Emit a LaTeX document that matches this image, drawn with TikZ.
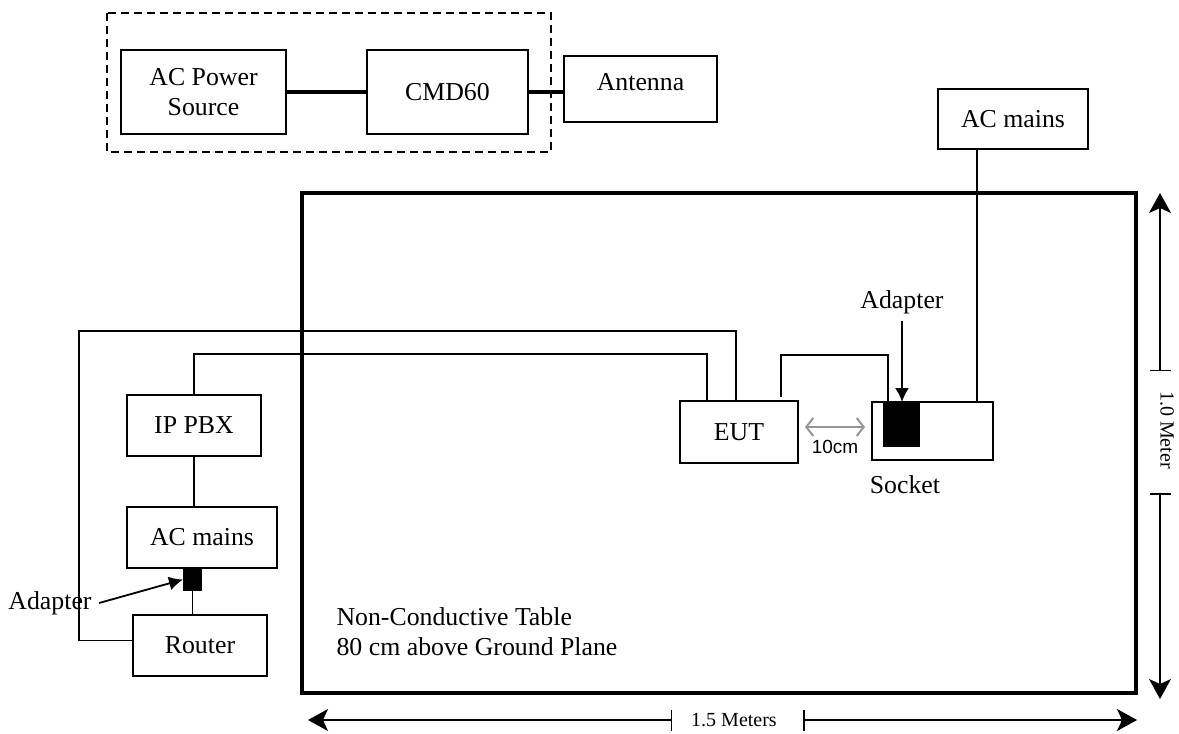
\documentclass[tikz,border=0pt]{standalone}
\usepackage{fontspec}
\setmainfont{Liberation Serif}
\newfontfamily\arialfont{Liberation Sans}
\usetikzlibrary{arrows.meta}
\definecolor{gapgray}{RGB}{150,150,150}
\tikzset{
  box/.style={draw,line width=1pt,inner sep=0pt,outer sep=0pt,align=center},
  plug/.style={fill=black,inner sep=0pt,outer sep=0pt},
  dim/.style={line width=.75pt},
  dimtip/.style={{Bar[width=10.5pt]}-{Stealth[length=10pt,width=11pt,inset=2.5pt]}},
  small/.style={font=\fontsize{10}{12}\selectfont},
}
\begin{document}
\begin{tikzpicture}[x=.5pt,y=-.5pt,>={Latex[length=7pt,width=7pt]},line width=.9pt,font=\fontsize{12.9}{15}\selectfont]
\useasboundingbox (0,0) rectangle (1179,734);

\draw[line width=1pt,dash pattern=on 4pt off 2.5pt] (107,13) rectangle (551,152);
\node[box,minimum width=82.5pt,minimum height=42pt] (acsrc) at (203.5,92) {AC Power\\Source};
\node[box,minimum width=80.5pt,minimum height=42pt] (cmd) at (447.5,92) {CMD60};
\node[box,minimum width=76.5pt,minimum height=33pt,label={[yshift=3.5pt]center:Antenna}] (ant) at (640.5,89) {};
\draw[line width=1.8pt] (acsrc.east) -- (cmd.west);
\draw[line width=1.8pt] (cmd.east) -- (cmd.east -| ant.west);

\node[box,minimum width=75pt,minimum height=30pt] (acr) at (1013,119) {AC mains};

\node[draw,line width=1.6pt,inner sep=0pt,minimum width=417pt,minimum height=250pt] (table) at (719,443) {};
\node[anchor=west,align=left] (tabtxt) at (329,632) {Non-Conductive Table\\80 cm above Ground Plane};

\node[box,minimum width=59pt,minimum height=31pt] (eut) at (739,432) {EUT};
\node[box,minimum width=60.5pt,minimum height=29pt] (sock) at (932.5,431) {};
\node[plug,minimum width=18.5pt,minimum height=22.5pt] (blk) at (901.5,424.5) {};
\node (socktxt) at (905,485) {Socket};
\node (adtop) at (902,302) {Adapter};
\draw[->] (adtop.south) -- (adtop.south |- blk.north);
\draw (acr.south) ++(-18pt,0) coordinate (am) -- (am |- sock.north);
\coordinate (eo) at (781,397);
\coordinate (sp) at (888,355);
\draw (eo) |- (sp) -- (sp |- sock.north);
\path (eut.east -| sock.west) coordinate (gw);
\draw[gapgray,line width=1pt,{Straight Barb[length=3.5pt,width=9pt]}-{Straight Barb[length=3.5pt,width=9pt]}] ([xshift=3.5pt,yshift=2.5pt]eut.east) -- ([xshift=-3.5pt,yshift=2.5pt]gw)
  node[midway,yshift=-10pt,text=black,font=\arialfont\fontsize{9.5}{11}\selectfont]{10cm};

\node[box,minimum width=67pt,minimum height=30.5pt] (pbx) at (194,425.5) {IP PBX};
\node[box,minimum width=75pt,minimum height=30.5pt] (acl) at (202,537.5) {AC mains};
\node[plug,minimum width=9.5pt,minimum height=11.5pt] (adp) at (192.5,579.5) {};
\node[box,minimum width=67pt,minimum height=30.5pt] (router) at (200,645.5) {Router};
\node (adlow) at (50,603) {Adapter};
\draw (pbx.south) -- (pbx.south |- acl.north);
\draw (adp.south) -- (adp.south |- router.north);
\draw[->] (adlow.east) -- (adp.west);
\coordinate (ik) at (707,354);
\draw (pbx.north) |- (ik) -- (ik |- eut.north);
\coordinate (ok) at (79,331);
\draw ([yshift=2.5pt]router.west) -| (ok) -| ([xshift=-1.5pt]eut.north);

\coordinate (vtop) at (1160,193);
\coordinate (vbot) at (1160,699);
\coordinate (vt1) at (1160,371);
\coordinate (vt2) at (1160,493);
\node[small,rotate=-90] (hgt) at (1167,430) {1.0 Meter};
\draw[dim,dimtip] (vt1) -- (vtop);
\draw[dim,dimtip] (vt2) -- (vbot);

\coordinate (hl) at (308,720);
\coordinate (hr) at (1137,720);
\coordinate (ht1) at (672,720);
\coordinate (ht2) at (803,720);
\node[small] (wid) at (734,720) {1.5 Meters};
\draw[dim,dimtip] (ht1) -- (hl);
\draw[dim,dimtip] (ht2) -- (hr);
\end{tikzpicture}
\end{document}
